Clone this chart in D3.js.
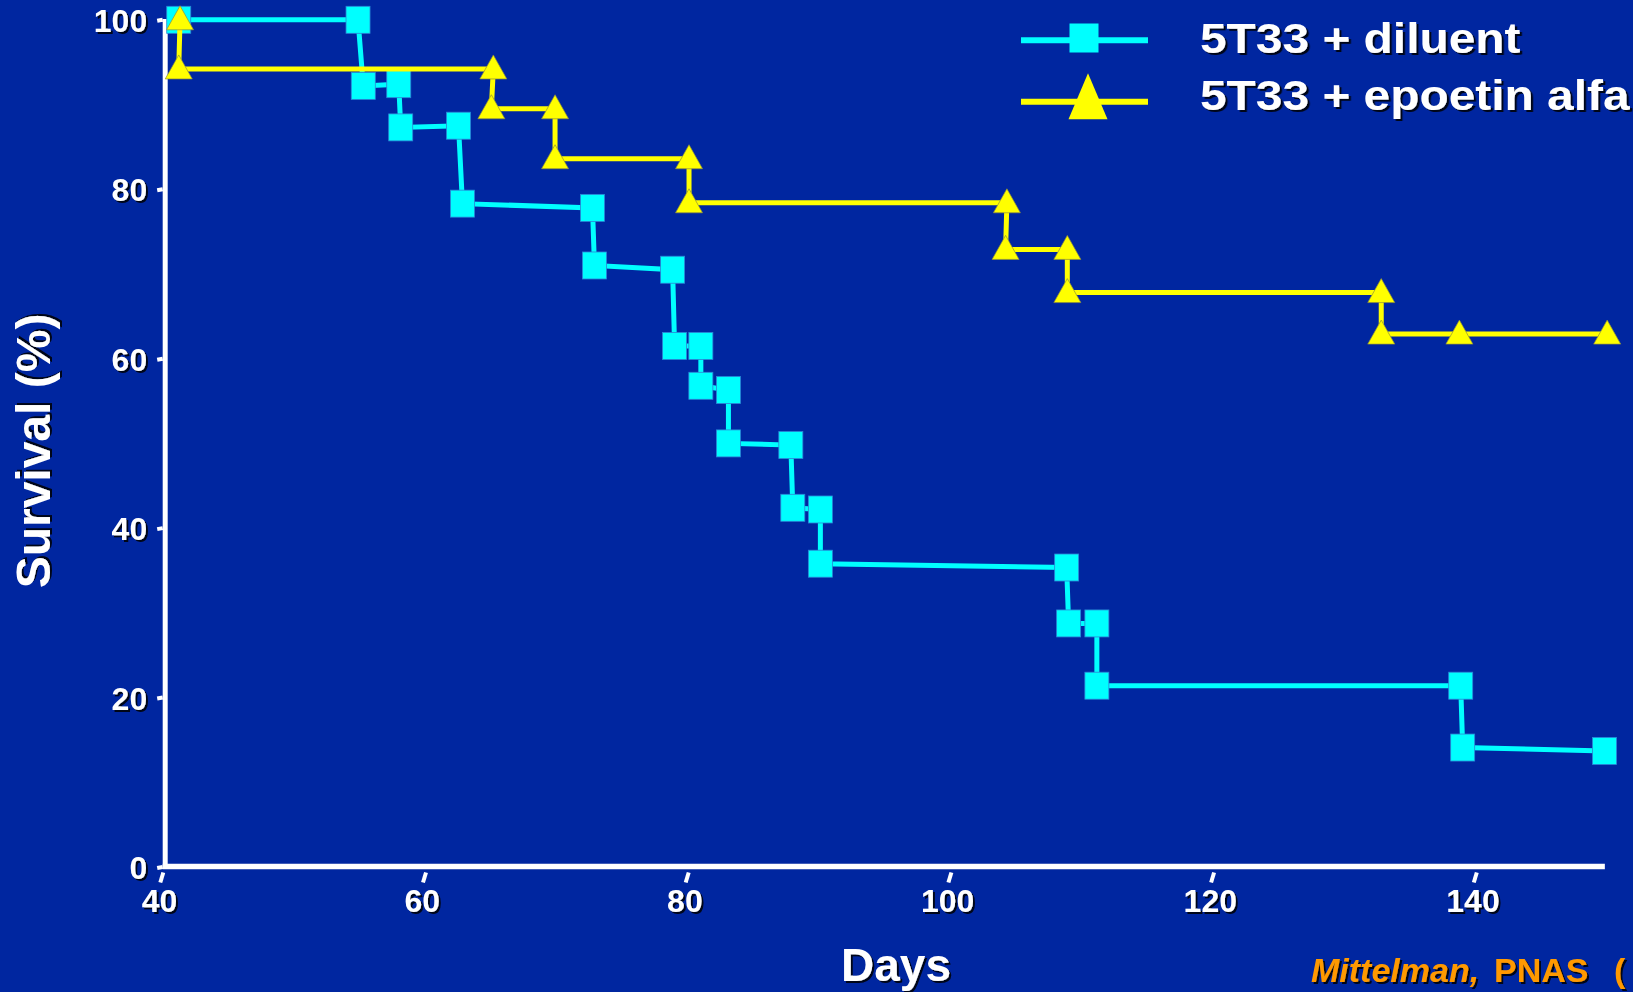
<!DOCTYPE html>
<html>
<head>
<meta charset="utf-8">
<script src="https://cdn.jsdelivr.net/npm/d3@7"></script>
<style>
  html, body { margin: 0; padding: 0; background: #0026A0; overflow: hidden; }
  svg { display: block; }
</style>
</head>
<body>
<svg id="chart" width="1633" height="992"></svg>
<script>
// ---------- DATA ----------
const seriesNames = ["5T33 + diluent", "5T33 + epoetin alfa"];

const diluentDays = [41.35, 55.0, 55.4, 58.1, 58.25, 62.65, 62.95, 72.85, 73.0, 78.95, 79.1, 81.1, 81.1,
                     83.2, 83.2, 87.95, 88.1, 90.2, 90.2, 108.95, 109.1, 111.25, 111.25, 138.95, 139.1, 149.9];
const diluentSurvival = [100, 100, 92.2, 92.4, 87.3, 87.5, 78.3, 77.8, 71.0, 70.5, 61.5, 61.5, 56.8,
                         56.3, 50.0, 49.8, 42.4, 42.2, 35.8, 35.35, 28.75, 28.75, 21.4, 21.4, 14.1, 13.7];

const epoetinDays = [41.45, 41.35, 65.3, 65.15, 70.0, 70.0, 80.2, 80.2, 104.4, 104.3, 109.0, 109.0,
                     132.9, 132.9, 138.85, 150.1];
const epoetinSurvival = [100, 94.2, 94.2, 89.5, 89.5, 83.6, 83.6, 78.4, 78.4, 72.9, 72.9, 67.8,
                         67.8, 62.9, 62.9, 62.9];

const xTicks = [40, 60, 80, 100, 120, 140];
const yTicks = [0, 20, 40, 60, 80, 100];
const xTitle = "Days";
const yTitle = "Survival (%)";
const citationItalic = "Mittelman,";
const citationUpright = "PNAS";
const citationTail = "(";

// ---------- SETUP ----------
const svg = d3.select("#chart");
const W = 1633, H = 992;
const BG = "#0026A0", CYAN = "#00FFFF", YELLOW = "#FFFF00", WHITE = "#FFFFFF", ORANGE = "#FF9900";
const FONT = "'Liberation Sans', Arial, Helvetica, sans-serif";

svg.append("rect").attr("width", W).attr("height", H).attr("fill", BG);

const defs = svg.append("defs");
const f = defs.append("filter").attr("id", "shadow")
  .attr("x", "-10%").attr("y", "-10%").attr("width", "130%").attr("height", "140%");
f.append("feDropShadow").attr("dx", 2).attr("dy", 2).attr("stdDeviation", 0.6)
  .attr("flood-color", "#000000").attr("flood-opacity", 0.85);

const x = d3.scaleLinear().domain([40, 150]).range([161, 161 + 110 * 13.135]);
const y = d3.scaleLinear().domain([0, 100]).range([867, 19.8]);

// ---------- AXES ----------
const axisX0 = 165.2;   // y-axis line position
const axisY0 = 866.5;   // x-axis line position

// Y axis (labels via d3 axis)
const gy = svg.append("g").attr("transform", `translate(${axisX0},0)`)
  .call(d3.axisLeft(y).tickValues(yTicks).tickSize(0).tickPadding(18).tickFormat(d3.format("d")));
gy.select(".domain").remove();
gy.selectAll(".tick text")
  .attr("fill", WHITE).attr("font-family", FONT).attr("font-weight", "bold")
  .attr("font-size", 32).attr("dy", "0.36em").attr("filter", "url(#shadow)");
gy.selectAll(".tick").append("line")
  .attr("x1", -8).attr("x2", -2.5).attr("y1", 0.5).attr("y2", -0.5)
  .attr("stroke", WHITE).attr("stroke-width", 4);

// X axis
const gx = svg.append("g").attr("transform", `translate(0,${axisY0})`)
  .call(d3.axisBottom(x).tickValues(xTicks).tickSize(0).tickPadding(23).tickFormat(d3.format("d")));
gx.select(".domain").remove();
gx.selectAll(".tick text")
  .attr("fill", WHITE).attr("font-family", FONT).attr("font-weight", "bold")
  .attr("font-size", 32).attr("x", -2).attr("filter", "url(#shadow)");
gx.selectAll(".tick").append("line")
  .attr("x1", 1.8).attr("y1", 6).attr("x2", -1.2).attr("y2", 16)
  .attr("stroke", WHITE).attr("stroke-width", 4);

// Axis lines
svg.append("line")
  .attr("x1", axisX0).attr("x2", axisX0).attr("y1", 19).attr("y2", axisY0 + 2.5)
  .attr("stroke", WHITE).attr("stroke-width", 5);
svg.append("line")
  .attr("x1", axisX0 - 2.5).attr("x2", x(150) - 1).attr("y1", axisY0).attr("y2", axisY0)
  .attr("stroke", WHITE).attr("stroke-width", 5.5);

// Axis titles
svg.append("text")
  .attr("transform", "translate(50,451) rotate(-90)")
  .attr("text-anchor", "middle")
  .attr("fill", WHITE).attr("font-family", FONT).attr("font-weight", "bold").attr("font-size", 48)
  .attr("filter", "url(#shadow)")
  .text(yTitle);

svg.append("text")
  .attr("x", 896).attr("y", 981)
  .attr("text-anchor", "middle")
  .attr("fill", WHITE).attr("font-family", FONT).attr("font-weight", "bold").attr("font-size", 46)
  .attr("filter", "url(#shadow)")
  .text(xTitle);

// ---------- SERIES ----------
const line = d3.line().x(d => x(d[0])).y(d => y(d[1]));
const diluent = diluentDays.map((d, i) => [d, diluentSurvival[i]]);
const epoetin = epoetinDays.map((d, i) => [d, epoetinSurvival[i]]);

// marker shapes
const SQ_W = 24, SQ_H = 27;
const TRI_W = 27, TRI_UP = 14, TRI_DOWN = 10;
function triPath(w, up, down) {
  return `M0,${-up}L${w / 2},${down}L${-w / 2},${down}Z`;
}

// diluent (cyan)
svg.append("path").datum(diluent)
  .attr("d", line).attr("fill", "none")
  .attr("stroke", CYAN).attr("stroke-width", 5).attr("stroke-linejoin", "miter");
svg.append("g").selectAll("rect").data(diluent).join("rect")
  .attr("x", d => x(d[0]) - SQ_W / 2).attr("y", d => y(d[1]) - SQ_H / 2)
  .attr("width", SQ_W).attr("height", SQ_H)
  .attr("fill", CYAN).attr("stroke", "#2a86d6").attr("stroke-width", 0.8);

// epoetin (yellow)
svg.append("path").datum(epoetin)
  .attr("d", line).attr("fill", "none")
  .attr("stroke", YELLOW).attr("stroke-width", 5).attr("stroke-linejoin", "miter");
svg.append("g").selectAll("path").data(epoetin).join("path")
  .attr("transform", d => `translate(${x(d[0])},${y(d[1])})`)
  .attr("d", triPath(TRI_W, TRI_UP, TRI_DOWN))
  .attr("fill", YELLOW).attr("stroke", "#8f8f3a").attr("stroke-width", 0.7);

// ---------- LEGEND ----------
const leg = svg.append("g");
// diluent entry
leg.append("line").attr("x1", 1021).attr("x2", 1148).attr("y1", 40.3).attr("y2", 40.3)
  .attr("stroke", CYAN).attr("stroke-width", 6);
leg.append("rect").attr("x", 1084 - 14.5).attr("y", 38 - 14.5).attr("width", 29).attr("height", 29)
  .attr("fill", CYAN);
// epoetin entry
leg.append("line").attr("x1", 1021).attr("x2", 1148).attr("y1", 101.7).attr("y2", 101.7)
  .attr("stroke", YELLOW).attr("stroke-width", 6);
leg.append("path").attr("transform", "translate(1088,96.3)")
  .attr("d", triPath(39, 23, 23)).attr("fill", YELLOW);

const legTexts = [[seriesNames[0], 53.3], [seriesNames[1], 110]];
leg.selectAll("text.leg").data(legTexts).join("text")
  .attr("class", "leg")
  .attr("transform", d => `translate(1200,${d[1]}) scale(1.14,1)`)
  .attr("fill", WHITE).attr("font-family", FONT).attr("font-weight", "bold").attr("font-size", 42)
  .attr("filter", "url(#shadow)")
  .text(d => d[0]);

// ---------- CITATION ----------
const cit = svg.append("text")
  .attr("x", 1311).attr("y", 982)
  .attr("fill", ORANGE).attr("font-family", FONT).attr("font-weight", "bold").attr("font-size", 34)
  .attr("filter", "url(#shadow)");
cit.append("tspan").attr("font-style", "italic").text(citationItalic);
cit.append("tspan").attr("x", 1494).text(citationUpright);
cit.append("tspan").attr("x", 1614).text(citationTail);
</script>
</body>
</html>
